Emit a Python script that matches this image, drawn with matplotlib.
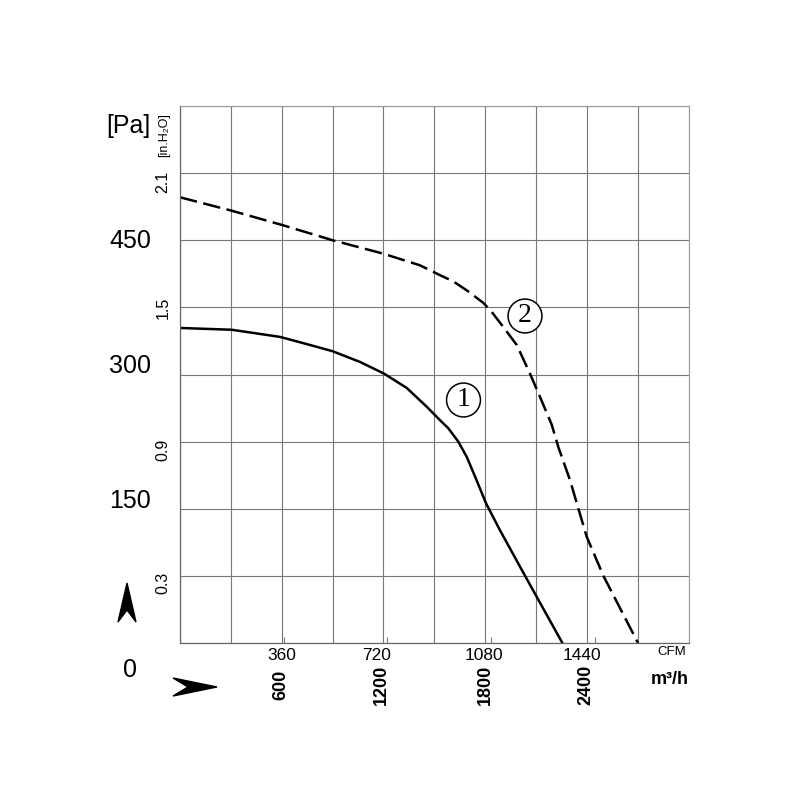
import numpy as np
import matplotlib
matplotlib.use('Agg')
import matplotlib.pyplot as plt
from matplotlib import font_manager
from matplotlib.patches import Polygon

# curve 1 (solid) : airflow m3/h, static pressure Pa
flow1 = [0, 305, 590, 747, 900, 1062, 1203, 1337, 1455, 1533, 1582, 1641, 1691, 1740, 1805, 1887, 2035, 2255]
pres1 = [352, 350, 342, 334, 326, 314, 301, 285, 264, 249, 240, 225, 208, 186, 156, 126, 75, 0]

# curve 2 (dashed)
flow2 = [0, 305, 603, 900, 1199, 1415, 1533, 1612, 1691, 1789, 1838, 1907, 1986, 2064, 2123,
         2192, 2231, 2300, 2398, 2497, 2701]
pres2 = [498, 483, 467, 450, 435, 422, 411, 404, 394, 380, 370, 353, 333, 301, 275,
         244, 219, 182, 119, 75, 0]

pa_labels = ['0', '150', '300', '450']
inh2o_labels = ['0.3', '0.9', '1.5', '2.1']
m3h_labels = ['600', '1200', '1800', '2400']
cfm_labels = ['360', '720', '1080', '1440']
cfm_to_m3h = 1.699

names = {f.name for f in font_manager.fontManager.ttflist}
sans = 'Liberation Sans' if 'Liberation Sans' in names else 'DejaVu Sans'
serif = 'Liberation Serif' if 'Liberation Serif' in names else 'DejaVu Serif'

fig = plt.figure(figsize=(8, 8), dpi=100)
ax = fig.add_axes([180/800, 1-643/800, (688.7-180)/800, (643-106)/800])

ax.plot(flow1, pres1, color='black', lw=1.8, solid_joinstyle='round')
ax.plot(flow2, pres2, color='black', lw=1.8, linestyle=(0, (7, 2.6)))

ax.set_xlim(0, 3000)
ax.set_ylim(0, 600)
ax.set_xticks(np.arange(0, 3001, 300))
ax.set_yticks(np.arange(0, 601, 75))
ax.set_xticks([float(c) * cfm_to_m3h for c in cfm_labels], minor=True)
ax.tick_params(which='major', length=0, labelbottom=False, labelleft=False)
ax.tick_params(which='minor', axis='x', direction='in', length=4, width=0.8, color='#777777')
ax.grid(True, which='major', color='#777777', lw=0.8)
for s in ['top', 'right']:
    ax.spines[s].set_color('#999999')
    ax.spines[s].set_linewidth(0.8)
for s in ['left', 'bottom']:
    ax.spines[s].set_color('#666666')
    ax.spines[s].set_linewidth(0.9)

def put(x, y, s, **kw):
    kw.setdefault('family', sans)
    fig.text(x/800, 1-y/800, s, ha='center', va='center', **kw)

# pressure labels
put(128, 126, '[Pa]', fontsize=18)
for lab, y in zip(pa_labels, [670, 501, 366, 241]):
    put(130, y, lab, fontsize=18)
put(164, 135, '[in.H₂O]', fontsize=9, rotation=90)
for lab, y in zip(inh2o_labels, [583, 450, 308, 182]):
    put(163, y, lab, fontsize=11.5, rotation=90)

# flow labels
for lab, x in zip(cfm_labels, [282, 377, 484, 582]):
    put(x, 656, lab, fontsize=12.5)
for lab, x in zip(m3h_labels, [281, 381, 485, 586]):
    put(x, 685, lab, fontsize=13, rotation=90, fontweight='bold')
put(672, 652, 'CFM', fontsize=9.5)
put(670, 680, 'm³/h', fontsize=13, fontweight='bold')

# curve numbers
for s, x, y in [('1', 463.5, 400), ('2', 525, 316)]:
    fig.text(x/800, 1-y/800, s, ha='center', va='center', family=serif, fontsize=20,
             bbox=dict(boxstyle='circle,pad=0.16', fc='white', ec='black', lw=1.1))

# arrow heads
up = [(127, 583), (136, 622), (127, 610), (118, 622)]
right = [(217, 687), (173, 696), (188, 687), (173, 678)]
for pts in (up, right):
    fig.patches.append(Polygon([(x/800, 1-y/800) for x, y in pts], closed=True,
                               transform=fig.transFigure, fc='black', ec='black'))

fig.savefig('out.png', dpi=100, facecolor='white')
